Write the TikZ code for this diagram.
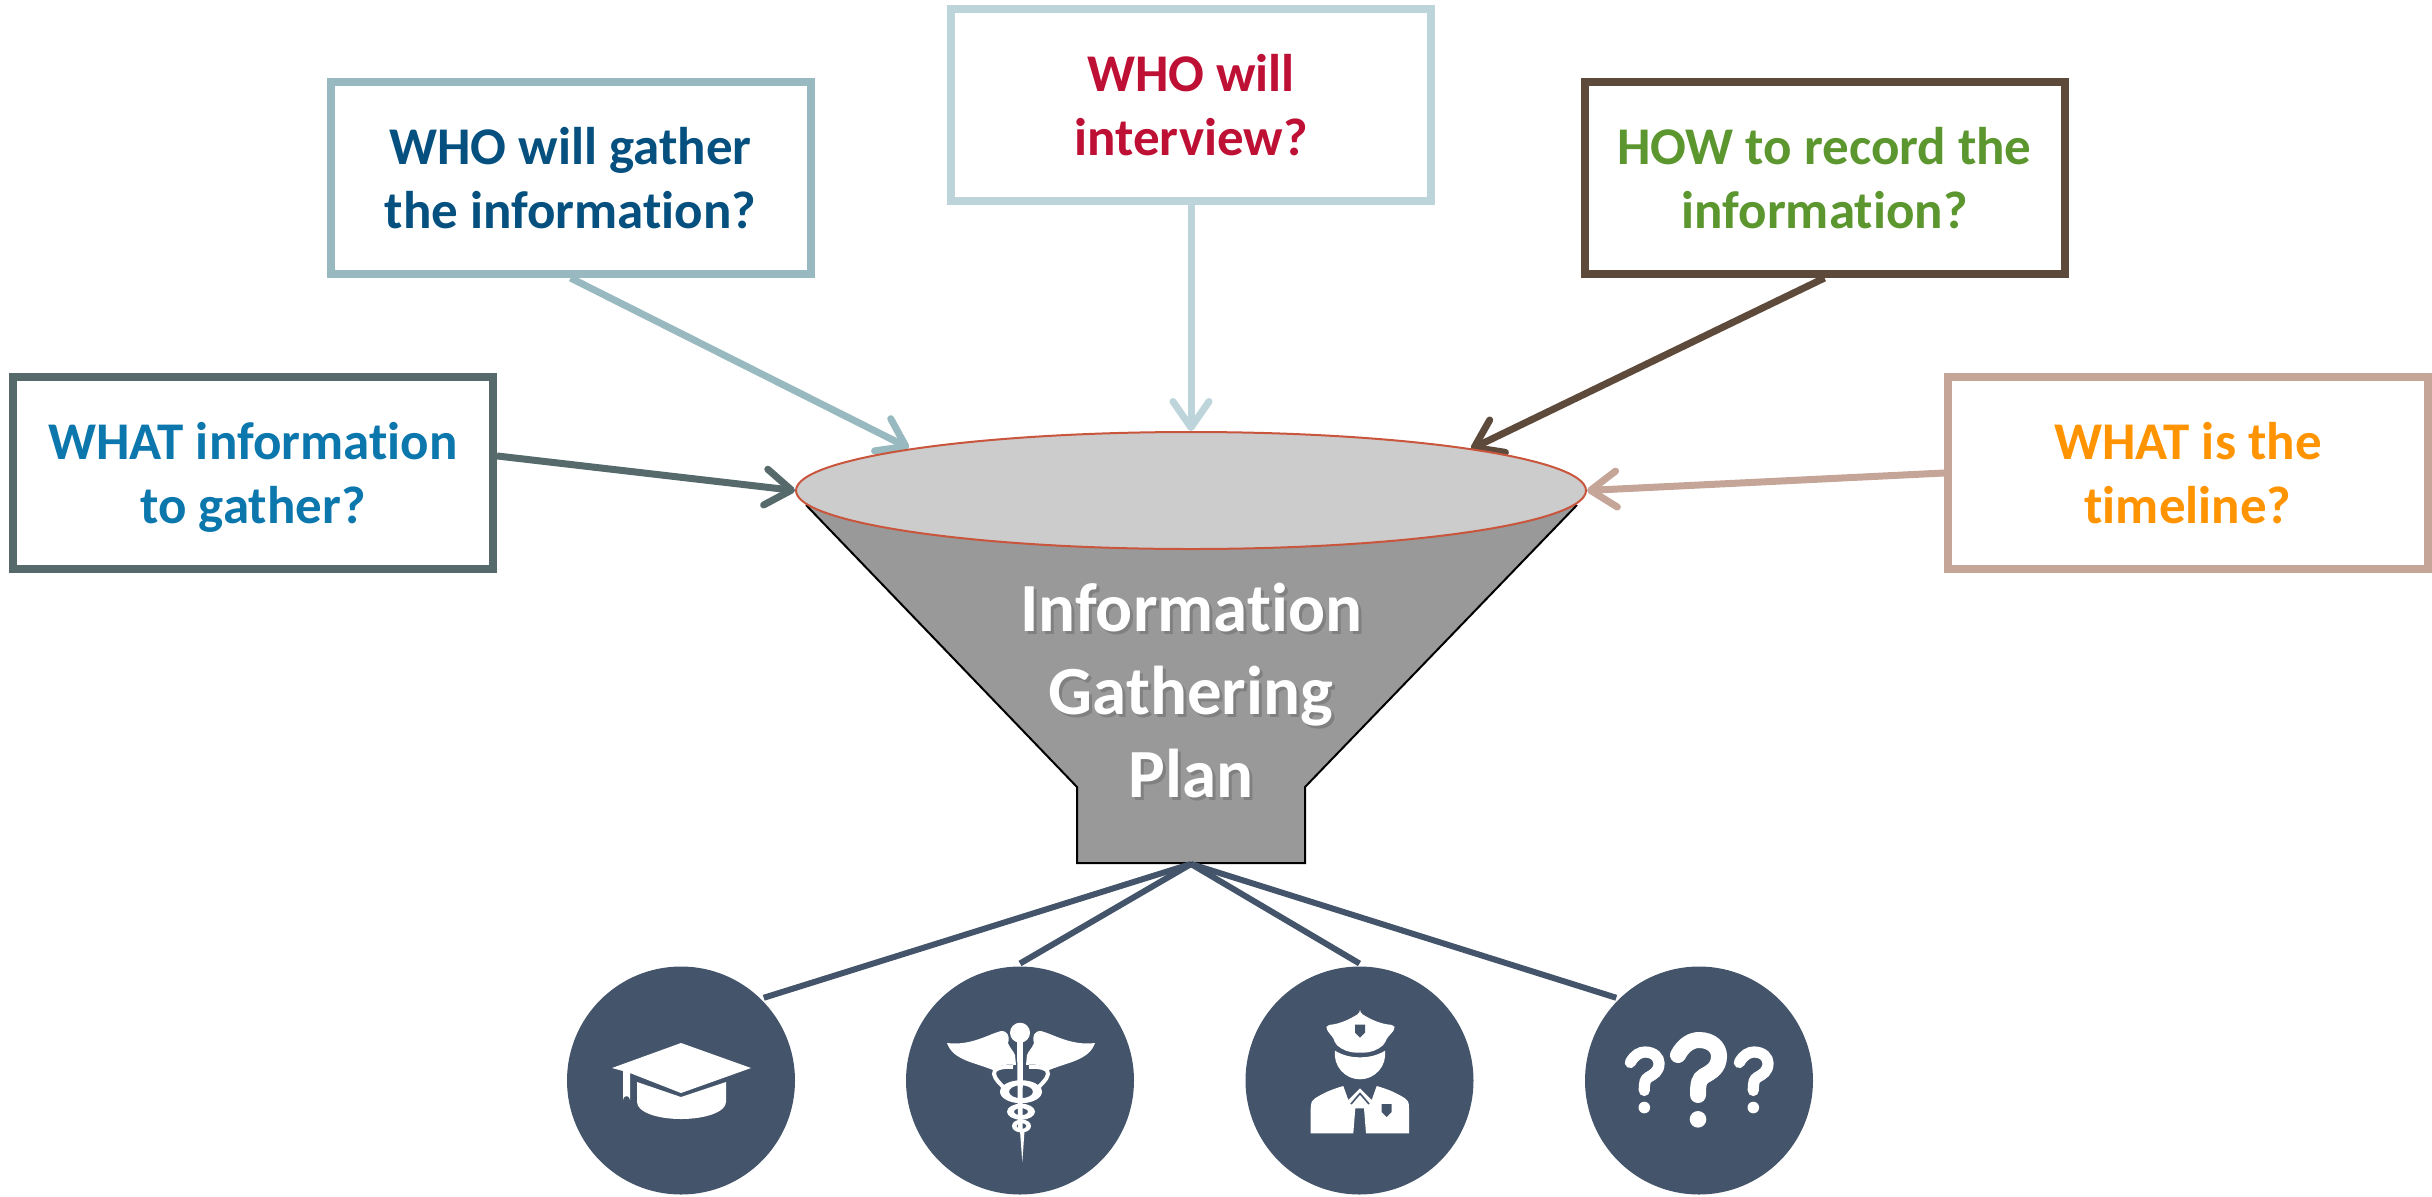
\documentclass[tikz,border=0pt]{standalone}
\usepackage{fontspec}
\setmainfont[Ligatures=NoCommon]{Carlito}
\usetikzlibrary{arrows.meta,shapes.geometric,backgrounds}
\definecolor{slate}{HTML}{44546A}
\definecolor{lineA}{HTML}{566A6C}
\definecolor{lineB}{HTML}{98B9C0}
\definecolor{lineC}{HTML}{BDD4DA}
\definecolor{lineD}{HTML}{5E4A3A}
\definecolor{lineE}{HTML}{C4A598}
\definecolor{textA}{HTML}{0B77AC}
\definecolor{textB}{HTML}{05507F}
\definecolor{textC}{HTML}{BE0F34}
\definecolor{textD}{HTML}{5C962F}
\definecolor{textE}{HTML}{FF9300}
\definecolor{rim}{HTML}{C9553D}
\newcommand{\shadowline}[1]{\leavevmode\rlap{\kern1.5pt\raisebox{-1.5pt}{\textcolor{black!50}{#1}}}\textcolor{white}{#1}}
\newcommand{\shield}[2]{\fill[slate] (#1-5,#2-6) -- (#1+5,#2-6) -- (#1+5,#2+2) -- (#1,#2+7) -- (#1-5,#2+2) -- cycle;}
\begin{document}
\begin{tikzpicture}[x=0.5pt, y=-0.5pt,
    box/.style = {draw, line width=4pt, fill=white, minimum width=240pt, minimum height=96pt, align=center, text depth=0.5pt, font=\fontsize{26.5}{32}\selectfont\bfseries},
    feed/.style = {line width=3.5pt, -{Straight Barb[length=13pt,width=18pt,round]}},
    badge/.style = {circle, fill=slate, minimum size=114pt, inner sep=0pt, outer sep=1.5pt},
    drop/.style = {slate, line width=3pt}]
    \useasboundingbox (0,0) rectangle (2432,1196);
    \fill[black!40] (806,505) -- (1077,787) -- (1077,863) -- (1305,863) -- (1305,787) -- (1577,505) -- cycle;
    \draw[line width=1pt] (806,505) -- (1077,787) -- (1077,863) -- (1305,863) -- (1305,787) -- (1577,505);
    \coordinate (spout) at (1191,864);
    \coordinate (whotip) at (909,448);
    \coordinate (howtip) at (1471,449);
    \node[ellipse, draw=rim, fill=black!20, line width=1pt, minimum width=395pt, minimum height=58.5pt, inner sep=0pt] (lip) at (1191,490.5) {};
    \node[font=\fontsize{34.5}{41.7}\selectfont\bfseries, align=center] (plan) at (1191,692) {\shadowline{Information}\\ \shadowline{Gathering}\\ \shadowline{Plan}};
    \node[box, draw=lineA, text=textA] (what) at (253,473) {WHAT information\\ to gather?};
    \node[box, draw=lineB, text=textB] (who) at (570.5,178) {WHO will gather\\ the information?};
    \node[box, draw=lineC, text=textC] (interview) at (1191,105) {WHO will\\ interview?};
    \node[box, draw=lineD, text=textD] (how) at (1824.5,178) {HOW to record the\\ information?};
    \node[box, draw=lineE, text=textE] (timeline) at (2188,473) {WHAT is the\\ timeline?};
    \begin{pgfonlayer}{background}
    \draw[feed, lineA] (what.4) -- (lip.west);
    \draw[feed, lineB] (who.south) -- (whotip);
    \draw[feed, lineC] (interview.south) -- (lip.north);
    \draw[feed, lineD] (how.south) -- (howtip);
    \draw[feed, lineE] (timeline.west) -- (lip.east);
    \end{pgfonlayer}
    \node[badge] (cap) at (681,1080.5) {};
    \node[badge] (staff) at (1020,1080.5) {};
    \node[badge] (police) at (1359.5,1080.5) {};
    \node[badge] (unknown) at (1699,1080.5) {};
    \draw[drop] (spout) -- (cap.45);
    \draw[drop] (spout) -- (staff.north);
    \draw[drop] (spout) -- (police.north);
    \draw[drop] (spout) -- (unknown.135);
    \fill[white] (681,1043) -- (751,1068) -- (681,1093) -- (630,1073) -- (630,1100) arc (0:180:3.5 and -4) -- (623,1071) -- (612,1068) -- cycle;
    \fill[white] (637,1082) -- (681,1097) -- (726,1082) -- (726,1102) .. controls (726,1112) and (705,1119) .. (681,1119) .. controls (657,1119) and (637,1112) .. (637,1102) -- cycle;
    \foreach \s in {1,-1} {
        \fill[white, shift={(1021,0)}, xscale=\s] (74,1043) .. controls (50,1046) and (32,1034) .. (20,1031) .. controls (13,1031) and (11,1036) .. (13,1043) .. controls (10,1050) and (8,1050) .. (6,1055) -- (5,1065) .. controls (12,1064) and (20,1064) .. (28,1070) .. controls (48,1062) and (68,1060) .. (74,1043) -- cycle;
        \draw[white, line width=2pt, shift={(1021,0)}, xscale=\s] (8,1067) .. controls (20,1066) and (28,1069) .. (27,1074) .. controls (26,1080) and (20,1084) .. (16,1089);
    }
    \fill[white, even odd rule] (1021,1091.7) ellipse (21 and 11.5) (1021,1091.7) ellipse (12 and 6.5);
    \fill[white, even odd rule] (1021,1111.7) ellipse (14 and 8) (1021,1111.7) ellipse (7 and 3.5);
    \fill[white, even odd rule] (1021.5,1126) ellipse (9.5 and 6.5) (1021.5,1126) ellipse (5 and 3);
    \fill[white] (1020,1032.7) circle (10);
    \fill[white] (1017,1040) -- (1023,1040) -- (1022.5,1131) -- (1024.5,1131) -- (1022.3,1162) -- (1020,1131) -- (1018,1130) -- cycle;
    \fill[white, rounded corners=1.5pt] (1360,1012.7) .. controls (1350,1019) and (1340,1024) .. (1327,1025) -- (1326,1029) -- (1334.3,1039.3) -- (1335,1043.3) .. controls (1342,1050) and (1350,1052.7) .. (1360,1052.7) .. controls (1370,1052.7) and (1378,1050) .. (1385,1043.3) -- (1386,1039.3) -- (1395,1029) -- (1394,1025) .. controls (1380,1024) and (1370,1019) .. (1360,1012.7) -- cycle;
    \shield{1360}{1030.7}
    \fill[white] (1335,1050.7) .. controls (1342,1055) and (1350,1057.3) .. (1360,1057.3) .. controls (1370,1057.3) and (1378,1055) .. (1385,1050.7) .. controls (1387,1066) and (1375,1079.3) .. (1360,1079.3) .. controls (1345,1079.3) and (1333,1066) .. (1335,1050.7) -- cycle;
    \fill[white] (1310.7,1133.3) -- (1310.7,1108.3) .. controls (1311,1102) and (1312,1100) .. (1315,1098.3) .. controls (1325,1092) and (1333,1089) .. (1343.3,1086) -- (1348.3,1100) -- (1360,1088.3) -- (1371.7,1100) -- (1376.7,1086) .. controls (1387,1089) and (1395,1092) .. (1405,1098.3) .. controls (1408,1100) and (1409,1102) .. (1409,1108.3) -- (1409,1133.3) -- (1366,1133.3) -- (1364,1108.3) -- (1355.3,1108.3) -- (1353.3,1133.3) -- cycle;
    \draw[slate, line width=0.8pt] (1351,1104) -- (1360,1093.5) -- (1369,1104);
    \shield{1386.7}{1110}
    \foreach \cx/\cy/\s/\w in {1699/1040/1/8, 1645/1052/0.7/5.6, 1754/1052/0.7/5.6} {
        \draw[white, line width=\w pt, line cap=round, shift={(\cx,\cy)}, scale=\s] (-21,15) .. controls (-15,4) and (-7,0) .. (0,0) .. controls (13,0) and (20,8) .. (20,16) .. controls (20,28) and (12,32) .. (5,36) .. controls (0,39) and (-1,43) .. (-1,55);
        \fill[white, shift={(\cx,\cy)}, scale=\s] (-1,79.3) circle (8.3);
    }
\end{tikzpicture}
\end{document}
